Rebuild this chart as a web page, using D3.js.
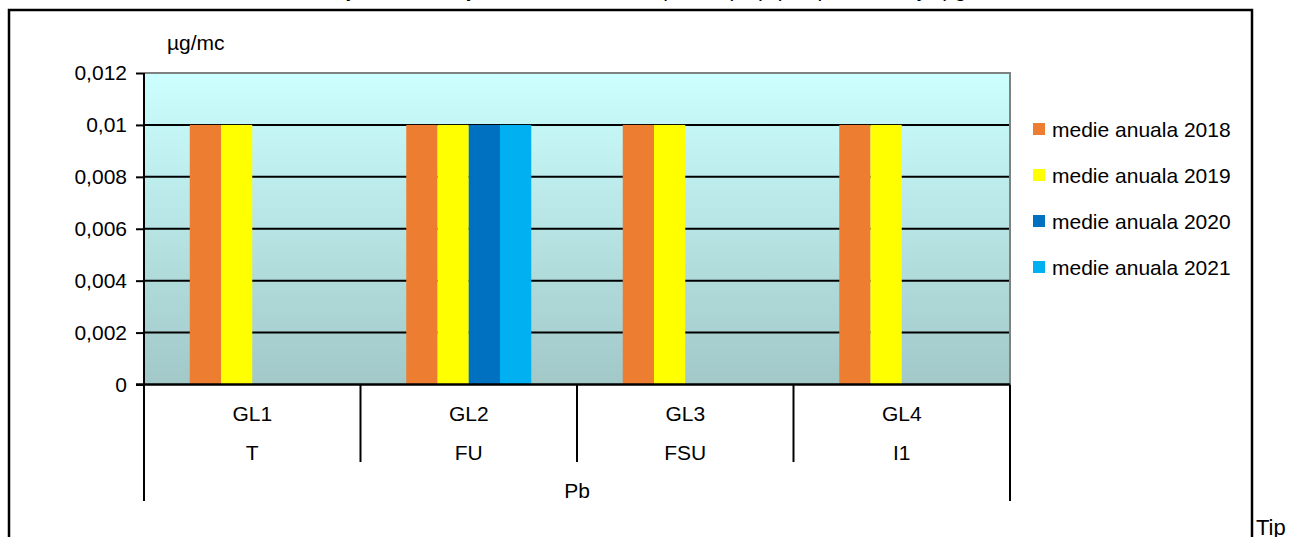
<!DOCTYPE html>
<html>
<head>
<meta charset="utf-8">
<script src="https://cdn.jsdelivr.net/npm/d3@7"></script>
<style>
  html, body { margin: 0; padding: 0; background: #fff; overflow: hidden; }
  svg { display: block; font-family: "Liberation Sans", Arial, sans-serif; }
</style>
</head>
<body>
<svg id="chart" width="1292" height="537"></svg>
<script>
// categories (two label rows + group label)
var stations = ["GL1", "GL2", "GL3", "GL4"];
var stationTypes = ["T", "FU", "FSU", "I1"];
var pollutant = "Pb";

// series
var seriesNames = ["medie anuala 2018", "medie anuala 2019", "medie anuala 2020", "medie anuala 2021"];
var seriesColors = ["#ED7D31", "#FFFF00", "#0070C0", "#00B0F0"];
var values2018 = [0.01, 0.01, 0.01, 0.01];
var values2019 = [0.01, 0.01, 0.01, 0.01];
var values2020 = [null, 0.01, null, null];
var values2021 = [null, 0.01, null, null];
var yTicks = [0, 0.002, 0.004, 0.006, 0.008, 0.01, 0.012];

(function () {
    var allSeries = [values2018, values2019, values2020, values2021];

    var svg = d3.select("#chart");
    var fontSize = 21;

    // plot area
    var plotLeft = 144, plotRight = 1010, plotTop = 73, plotBottom = 384.5;

    var x0 = d3.scaleBand().domain(d3.range(stations.length)).range([plotLeft, plotRight]).padding(0);
    var x1 = d3.scaleBand().domain(d3.range(seriesNames.length))
        .range([0, x0.bandwidth()]).paddingInner(0).paddingOuter(1.464);
    var y = d3.scaleLinear().domain([0, 0.012]).range([plotBottom, plotTop]);

    // title (cut off at the top of the frame, only descenders show)
    svg.append("text")
        .attr("x", 646).attr("y", -3)
        .attr("text-anchor", "middle")
        .attr("font-size", fontSize)
        .text("Evoluţia concentraţiilor medii anuale de plumb (Pb), pe tipuri de staţii, µg/mc");

    // outer frame
    svg.append("rect")
        .attr("x", 9).attr("y", 10)
        .attr("width", 1243).attr("height", 560)
        .attr("fill", "none").attr("stroke", "#000").attr("stroke-width", 2.5);

    // gradient background
    var grad = svg.append("defs").append("linearGradient")
        .attr("id", "bg").attr("x1", 0).attr("y1", 0).attr("x2", 0).attr("y2", 1);
    grad.append("stop").attr("offset", "0%").attr("stop-color", "#CCFFFF");
    grad.append("stop").attr("offset", "100%").attr("stop-color", "#A2C8C8");

    svg.append("rect")
        .attr("x", plotLeft).attr("y", plotTop)
        .attr("width", plotRight - plotLeft).attr("height", plotBottom - plotTop)
        .attr("fill", "url(#bg)");

    // plot border top/right in gray
    svg.append("path")
        .attr("d", "M" + plotLeft + "," + plotTop + "H" + plotRight + "V" + plotBottom)
        .attr("fill", "none").attr("stroke", "#808080").attr("stroke-width", 2);

    // gridlines
    svg.append("g").selectAll("line")
        .data(yTicks.filter(function (d) { return d > 0 && d < 0.012; }))
        .enter().append("line")
        .attr("x1", plotLeft).attr("x2", plotRight - 1)
        .attr("y1", function (d) { return y(d); })
        .attr("y2", function (d) { return y(d); })
        .attr("stroke", "#000").attr("stroke-width", 2);

    // bars
    var groups = svg.append("g").selectAll("g")
        .data(stations)
        .enter().append("g")
        .attr("transform", function (d, i) { return "translate(" + x0(i) + ",0)"; });

    groups.selectAll("rect")
        .data(function (d, i) {
            return allSeries.map(function (s, k) { return { k: k, v: s[i] }; })
                .filter(function (o) { return o.v != null; });
        })
        .enter().append("rect")
        .attr("x", function (d) { return x1(d.k); })
        .attr("width", x1.bandwidth())
        .attr("y", function (d) { return y(d.v); })
        .attr("height", function (d) { return plotBottom - y(d.v); })
        .attr("fill", function (d) { return seriesColors[d.k]; });

    // y axis
    var yAxis = d3.axisLeft(y)
        .tickValues(yTicks)
        .tickSize(8)
        .tickPadding(9)
        .tickFormat(function (d) { return d === 0 ? "0" : String(+d.toFixed(3)).replace(".", ","); });

    var gy = svg.append("g").attr("transform", "translate(" + plotLeft + ",0)").call(yAxis);
    gy.select(".domain").attr("stroke", "#000").attr("stroke-width", 2)
        .attr("d", "M0," + plotTop + "V" + plotBottom);
    gy.selectAll(".tick line").attr("stroke", "#000").attr("stroke-width", 2);
    gy.selectAll(".tick text").attr("font-size", fontSize).attr("fill", "#000")
        .attr("font-family", "Liberation Sans, Arial, sans-serif");

    // unit label
    svg.append("text")
        .attr("x", 167).attr("y", 50)
        .attr("font-size", fontSize)
        .text("µg/mc");

    // x axis baseline
    svg.append("line")
        .attr("x1", plotLeft - 8).attr("x2", plotRight)
        .attr("y1", plotBottom).attr("y2", plotBottom)
        .attr("stroke", "#000").attr("stroke-width", 2.5);

    // category separators
    svg.append("g").selectAll("line")
        .data(d3.range(stations.length + 1))
        .enter().append("line")
        .attr("x1", function (i) { return i < stations.length ? x0(i) : plotRight; })
        .attr("x2", function (i) { return i < stations.length ? x0(i) : plotRight; })
        .attr("y1", plotBottom)
        .attr("y2", function (i) { return (i === 0 || i === stations.length) ? 501 : 462; })
        .attr("stroke", "#000").attr("stroke-width", 2);

    // station labels
    svg.append("g").selectAll("text")
        .data(stations)
        .enter().append("text")
        .attr("x", function (d, i) { return x0(i) + x0.bandwidth() / 2; })
        .attr("y", 421)
        .attr("text-anchor", "middle")
        .attr("font-size", fontSize)
        .text(function (d) { return d; });

    svg.append("g").selectAll("text")
        .data(stationTypes)
        .enter().append("text")
        .attr("x", function (d, i) { return x0(i) + x0.bandwidth() / 2; })
        .attr("y", 460)
        .attr("text-anchor", "middle")
        .attr("font-size", fontSize)
        .text(function (d) { return d; });

    svg.append("text")
        .attr("x", (plotLeft + plotRight) / 2).attr("y", 498)
        .attr("text-anchor", "middle")
        .attr("font-size", fontSize)
        .text(pollutant);

    // legend
    var legend = svg.append("g").selectAll("g")
        .data(seriesNames)
        .enter().append("g")
        .attr("transform", function (d, i) { return "translate(1033," + (137 + i * 46) + ")"; });

    legend.append("rect")
        .attr("x", 0).attr("y", -14)
        .attr("width", 12).attr("height", 12)
        .attr("fill", function (d, i) { return seriesColors[i]; });

    legend.append("text")
        .attr("x", 19).attr("y", 0)
        .attr("font-size", fontSize)
        .text(function (d) { return d; });

    // text below the frame edge, cut by the picture
    svg.append("text")
        .attr("x", 1256).attr("y", 535)
        .attr("font-size", 22)
        .text("Tip");
})();
</script>
</body>
</html>
